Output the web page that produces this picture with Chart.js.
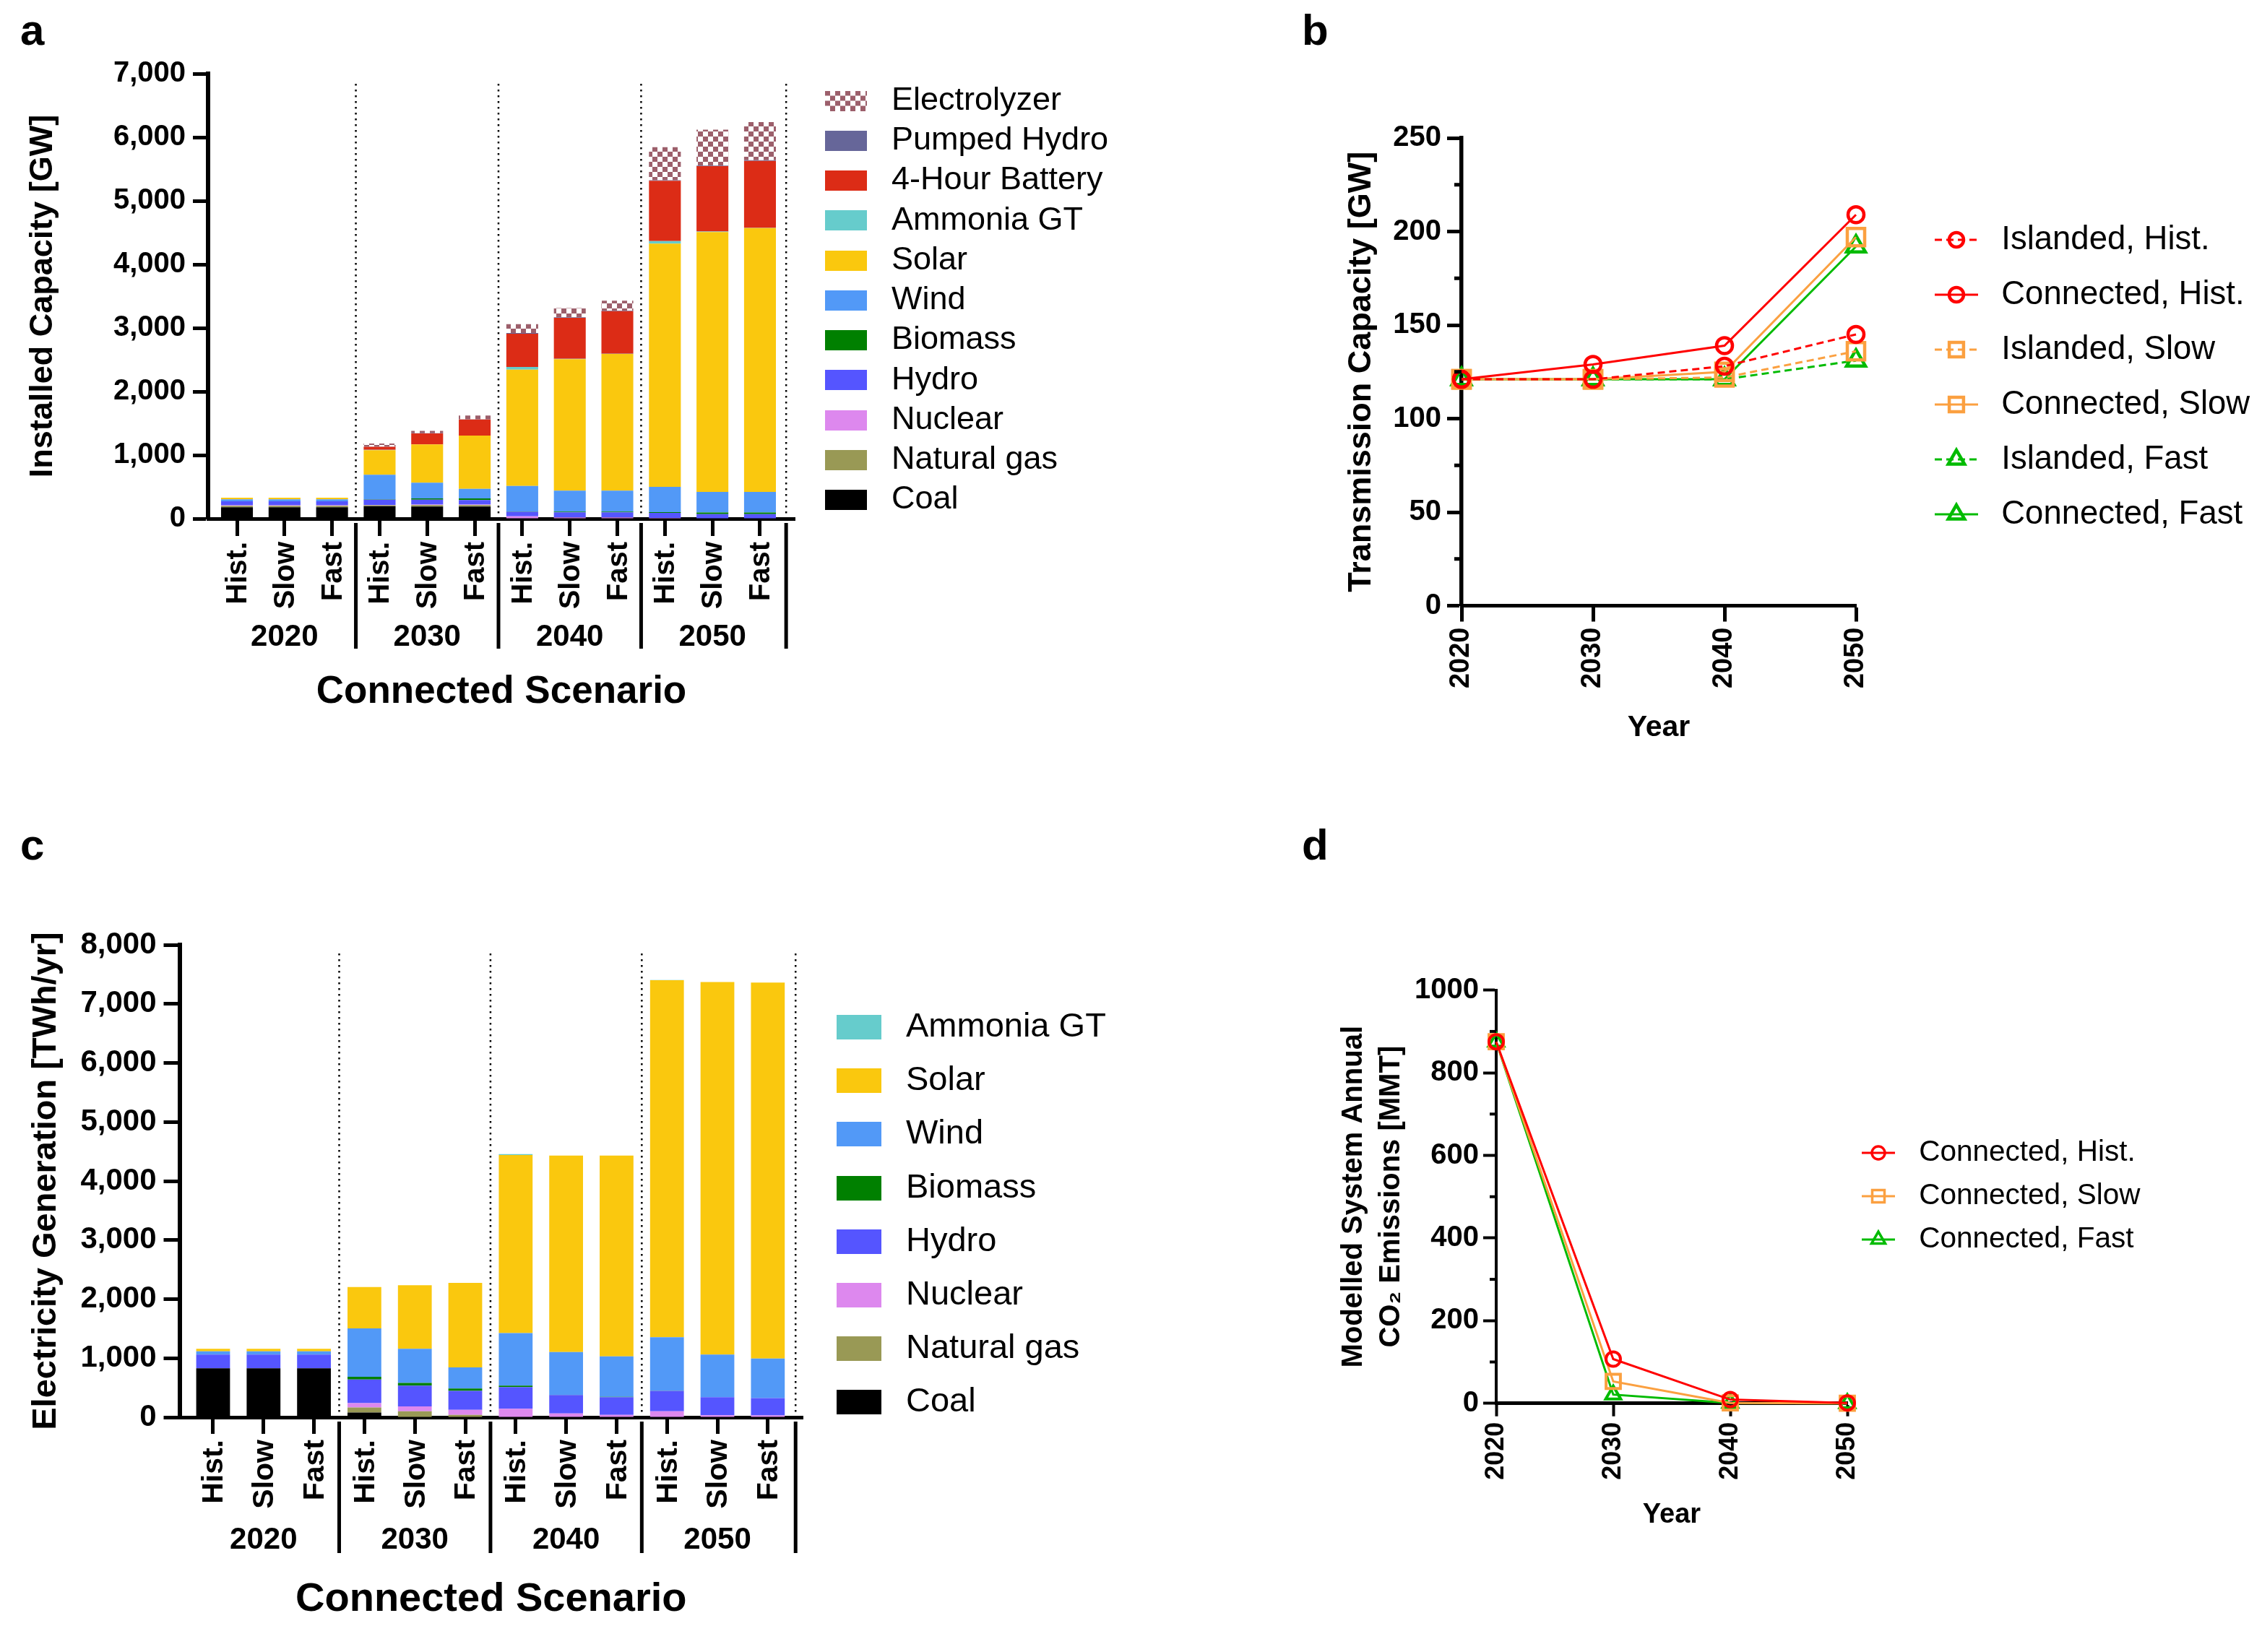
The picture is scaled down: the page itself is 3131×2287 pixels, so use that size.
<!DOCTYPE html>
<html>
<head>
<meta charset="utf-8">
<title>Capacity, transmission, generation, emissions</title>
<script src="https://cdn.jsdelivr.net/npm/chart.js@4"></script>
<style>
  html, body { margin: 0; padding: 0; background: #fff; }
  body { position: relative; width: 3131px; height: 2287px; overflow: hidden; }
  canvas { position: absolute; }
  .letter { position: absolute; font: bold 60px "Liberation Sans", Arial, sans-serif; line-height: 60px; color: #000; }
</style>
</head>
<body>
<div class="letter" style="left:28px;top:12px">a</div>
<div class="letter" style="left:1802px;top:12px">b</div>
<div class="letter" style="left:28px;top:1140px">c</div>
<div class="letter" style="left:1802px;top:1140px">d</div>
<canvas id="panelA" width="1660" height="1100" style="left:0;top:0"></canvas>
<canvas id="panelB" width="1431" height="1100" style="left:1700px;top:0"></canvas>
<canvas id="panelC" width="1660" height="1157" style="left:0;top:1130px"></canvas>
<canvas id="panelD" width="1431" height="1157" style="left:1700px;top:1130px"></canvas>
<script>
// ---------------- datos ----------------
const scenarios = ['Hist.', 'Slow', 'Fast'];
const years = ['2020', '2030', '2040', '2050'];
const lineYears = [2020, 2030, 2040, 2050];

// panel a, installed capacity [GW], 12 bars: 3 scenarios x 4 years
const capCoal = [178, 178, 178, 197, 189, 189, 0, 0, 0, 0, 0, 0];
const capGas = [25, 25, 25, 12, 24, 24, 0, 0, 0, 0, 0, 0];
const capNuclear = [7, 7, 7, 7, 10, 10, 38, 20, 20, 10, 5, 5];
const capHydro = [63, 63, 63, 83, 76, 69, 71, 80, 80, 82, 67, 67];
const capBiomass = [0, 0, 0, 5, 19, 26, 5, 10, 10, 10, 26, 26];
const capWind = [30, 30, 30, 385, 246, 152, 401, 329, 329, 398, 322, 322];
const capSolar = [27, 27, 27, 387, 604, 836, 1828, 2069, 2151, 3827, 4089, 4150];
const capAmmonia = [0, 0, 0, 5, 0, 0, 44, 5, 5, 39, 8, 4];
const capBattery = [0, 0, 0, 50, 172, 254, 523, 646, 669, 948, 1028, 1054];
const capPumped = [0, 0, 0, 3, 3, 3, 10, 10, 10, 10, 10, 10];
const capElectrolyzer = [0, 0, 0, 47, 39, 59, 140, 144, 156, 520, 564, 602];

// panel c, electricity generation [TWh/yr]
const genCoal = [830, 830, 830, 80, 0, 0, 0, 0, 0, 0, 0, 0];
const genGas = [0, 0, 0, 85, 100, 40, 0, 0, 0, 0, 0, 0];
const genNuclear = [0, 0, 0, 75, 85, 85, 145, 65, 40, 100, 35, 30];
const genHydro = [230, 230, 230, 400, 350, 320, 365, 310, 300, 345, 305, 295];
const genBiomass = [0, 0, 0, 45, 45, 40, 25, 5, 5, 5, 0, 0];
const genWind = [55, 55, 55, 820, 580, 360, 890, 725, 685, 905, 720, 670];
const genSolar = [45, 45, 45, 700, 1075, 1430, 3015, 3325, 3400, 6045, 6310, 6365];
const genAmmonia = [0, 0, 0, 0, 0, 0, 15, 0, 0, 5, 0, 0];

// panel b, transmission capacity [GW]
const transIslandedHist = [121, 121, 128, 145];
const transConnectedHist = [121, 129, 139, 209];
const transIslandedSlow = [121, 121, 122, 136];
const transConnectedSlow = [121, 121, 125, 197];
const transIslandedFast = [121, 121, 121, 131];
const transConnectedFast = [121, 121, 121, 192];

// panel d, CO2 emissions [MMT]
const co2Hist = [875, 107, 9, 1];
const co2Slow = [875, 53, 1, 0];
const co2Fast = [875, 21, 1, 0];

const capTicks = [0, 1000, 2000, 3000, 4000, 5000, 6000, 7000];
const genTicks = [0, 1000, 2000, 3000, 4000, 5000, 6000, 7000, 8000];
const transTicks = [0, 50, 100, 150, 200, 250];
const transMinor = [25, 75, 125, 175, 225];
const co2Ticks = [0, 200, 400, 600, 800, 1000];
const co2Minor = [100, 300, 500, 700, 900];

const categories = years.flatMap(() => scenarios);
const barPositions = categories.map((c, i) => i);
const groupCentres = [1, 4, 7, 10];
const groupEdges = [2.5, 5.5, 8.5, 11.55];

// ---------------- colores ----------------
const RED = '#ff0000', ORANGE = '#fba040', GREEN = '#00bb00';
const C_COAL = '#000000', C_GAS = '#999955', C_NUCLEAR = '#dd88ee', C_HYDRO = '#5555ff',
  C_BIOMASS = '#008000', C_WIND = '#5299f7', C_SOLAR = '#fac80e', C_AMMONIA = '#66cccc',
  C_BATTERY = '#dc2c16', C_PUMPED = '#666699';

const FONT = '"Liberation Sans", Arial, sans-serif';
Chart.defaults.font.family = FONT;
Chart.defaults.color = '#000';

function checker() {
  const size = 7;
  const tile = document.createElement('canvas');
  tile.width = size * 2;
  tile.height = size * 2;
  const c = tile.getContext('2d');
  c.fillStyle = '#fff';
  c.fillRect(0, 0, size * 2, size * 2);
  c.fillStyle = '#9c5f6b';
  c.fillRect(0, 0, size, size);
  c.fillRect(size, size, size, size);
  return c.createPattern(tile, 'repeat');
}
const C_ELECTROLYZER = checker();

function swatch(fill, w, h) {
  const s = document.createElement('canvas');
  s.width = w;
  s.height = h;
  const c = s.getContext('2d');
  c.fillStyle = fill;
  c.fillRect(0, 0, w, h);
  return s;
}

// small canvas with line + hollow marker for the legend of the line panels
function lineSwatch(color, dash, shape, w, r, lw) {
  const s = document.createElement('canvas');
  s.width = w;
  s.height = 40;
  const c = s.getContext('2d');
  c.strokeStyle = color;
  c.fillStyle = 'rgba(0,0,0,0)';
  c.lineWidth = 3;
  c.setLineDash(dash);
  c.beginPath();
  c.moveTo(0, 20);
  c.lineTo(w, 20);
  c.stroke();
  c.setLineDash([]);
  c.lineWidth = lw;
  Chart.helpers.drawPoint(c, { pointStyle: shape, radius: r, rotation: 0, borderWidth: lw }, w / 2, 20);
  return s;
}

// ---------------- plugins ----------------
// puts the legend where it goes, outside the plot
function legendAt(left, top) {
  return {
    id: 'legendAt',
    afterLayout(chart) {
      const l = chart.legend;
      l.left = left;
      l.top = top;
      l.right = left + 600;
      l.bottom = top + 1000;
    }
  };
}

// year labels, group dividers and dotted separators below/above the bars
function yearGroups(o) {
  return {
    id: 'yearGroups',
    afterDraw(chart) {
      const ctx = chart.ctx, x = chart.scales.x, y = chart.scales.y;
      ctx.save();
      ctx.strokeStyle = '#000';
      groupEdges.forEach(edge => {
        const px = x.getPixelForValue(edge);
        ctx.lineWidth = 2.5;
        ctx.setLineDash([2.5, 5.5]);
        ctx.beginPath();
        ctx.moveTo(px, o.dotTop);
        ctx.lineTo(px, y.bottom);
        ctx.stroke();
        ctx.lineWidth = 5;
        ctx.setLineDash([]);
        ctx.beginPath();
        ctx.moveTo(px, y.bottom + 6);
        ctx.lineTo(px, o.divBottom);
        ctx.stroke();
      });
      ctx.fillStyle = '#000';
      ctx.font = 'bold ' + o.yearSize + 'px ' + FONT;
      ctx.textAlign = 'center';
      ctx.textBaseline = 'middle';
      years.forEach((label, i) => ctx.fillText(label, x.getPixelForValue(groupCentres[i]), o.yearY));
      ctx.restore();
    }
  };
}

function minorTicks(values, len, width) {
  return {
    id: 'minorTicks',
    afterDraw(chart) {
      const ctx = chart.ctx, y = chart.scales.y;
      ctx.save();
      ctx.strokeStyle = '#000';
      ctx.lineWidth = width;
      values.forEach(v => {
        const py = y.getPixelForValue(v);
        ctx.beginPath();
        ctx.moveTo(y.right, py);
        ctx.lineTo(y.right - len, py);
        ctx.stroke();
      });
      ctx.restore();
    }
  };
}

// ---------------- ejes ----------------
function yAxis(o) {
  return {
    type: 'linear',
    position: 'left',
    stacked: o.stacked,
    min: o.ticks[0],
    max: o.ticks[o.ticks.length - 1],
    afterFit(s) { s.width = o.width; },
    afterBuildTicks(s) { s.ticks = o.ticks.map(v => ({ value: v })); },
    border: { color: '#000', width: o.line },
    grid: { drawOnChartArea: false, tickLength: o.tick, tickWidth: o.tickWidth, tickColor: '#000' },
    ticks: {
      padding: o.pad,
      autoSkip: false,
      font: { size: o.size, weight: 'bold' },
      callback: o.plain ? v => String(v) : v => v.toLocaleString('en-US')
    },
    title: {
      display: true,
      text: o.title,
      padding: 0,
      font: { size: o.titleSize, weight: 'bold', lineHeight: o.titleLine || 1.2 }
    }
  };
}

function barX(o) {
  return {
    type: 'linear',
    position: 'bottom',
    stacked: true,
    offset: false,
    min: o.min,
    max: o.max,
    afterFit(s) { s.height = o.height; },
    afterBuildTicks(s) { s.ticks = barPositions.map(v => ({ value: v })); },
    border: { color: '#000', width: 5 },
    grid: { offset: false, drawOnChartArea: false, tickLength: o.tick, tickWidth: 5, tickColor: '#000' },
    ticks: {
      minRotation: 90,
      maxRotation: 90,
      autoSkip: false,
      padding: o.pad,
      labelOffset: 2,
      font: { size: o.size, weight: 'bold' },
      callback: v => categories[v]
    },
    title: {
      display: true,
      text: 'Connected Scenario',
      padding: 0,
      font: { size: o.titleSize, weight: 'bold' }
    }
  };
}

function lineX(o) {
  return {
    type: 'linear',
    position: 'bottom',
    min: 2020,
    max: 2050,
    afterFit(s) { s.height = o.height; },
    afterBuildTicks(s) { s.ticks = lineYears.map(v => ({ value: v })); },
    border: { color: '#000', width: o.line },
    grid: { drawOnChartArea: false, tickLength: o.tick, tickWidth: o.tickWidth, tickColor: '#000' },
    ticks: {
      minRotation: 90,
      maxRotation: 90,
      autoSkip: false,
      padding: o.pad,
      font: { size: o.size, weight: 'bold' },
      callback: v => String(v)
    },
    title: {
      display: true,
      text: 'Year',
      padding: 0,
      font: { size: o.titleSize, weight: 'bold' }
    }
  };
}

function baseOptions(o) {
  return {
    responsive: false,
    animation: false,
    devicePixelRatio: 1,
    events: [],
    layout: { padding: o.padding },
    scales: { x: o.x, y: o.y },
    plugins: {
      tooltip: { enabled: false },
      legend: {
        position: 'chartArea',
        align: 'start',
        labels: {
          usePointStyle: true,
          pointStyleWidth: o.keyBox,
          padding: o.rowGap,
          font: { size: o.keySize, lineHeight: 1 },
          generateLabels: chart => {
            const items = chart.data.datasets.map(d => ({
              text: d.label,
              pointStyle: d.key,
              fillStyle: '#000',
              strokeStyle: '#000',
              lineWidth: 0,
              hidden: false
            }));
            return o.reverseKeys ? items.reverse() : items;
          }
        }
      }
    }
  };
}

function barSet(label, values, color, keyW, keyH) {
  return {
    label: label,
    data: values.map((v, i) => ({ x: barPositions[i], y: v })),
    backgroundColor: color,
    borderWidth: 0,
    barPercentage: 0.67,
    categoryPercentage: 1,
    key: swatch(color, keyW, keyH)
  };
}

function lineSet(label, values, color, dash, shape, s) {
  return {
    label: label,
    data: values.map((v, i) => ({ x: lineYears[i], y: v })),
    borderColor: color,
    borderWidth: 3,
    borderDash: dash,
    tension: 0,
    fill: false,
    clip: false,
    pointStyle: shape,
    pointRadius: s.r[shape],
    pointBorderWidth: s.lw,
    pointBorderColor: color,
    pointBackgroundColor: 'rgba(0,0,0,0)',
    key: lineSwatch(color, dash, shape, s.w, s.keyR[shape], s.keyLw)
  };
}

// ---------------- panel a ----------------
new Chart(document.getElementById('panelA'), {
  type: 'bar',
  data: {
    datasets: [
      barSet('Coal', capCoal, C_COAL, 58, 28),
      barSet('Natural gas', capGas, C_GAS, 58, 28),
      barSet('Nuclear', capNuclear, C_NUCLEAR, 58, 28),
      barSet('Hydro', capHydro, C_HYDRO, 58, 28),
      barSet('Biomass', capBiomass, C_BIOMASS, 58, 28),
      barSet('Wind', capWind, C_WIND, 58, 28),
      barSet('Solar', capSolar, C_SOLAR, 58, 28),
      barSet('Ammonia GT', capAmmonia, C_AMMONIA, 58, 28),
      barSet('4-Hour Battery', capBattery, C_BATTERY, 58, 28),
      barSet('Pumped Hydro', capPumped, C_PUMPED, 58, 28),
      barSet('Electrolyzer', capElectrolyzer, C_ELECTROLYZER, 58, 28)
    ]
  },
  options: baseOptions({
    padding: { left: 33, top: 102, right: 1660 - 1100, bottom: 110 },
    keyBox: 81, keySize: 45, rowGap: 10.25, reverseKeys: true,
    y: yAxis({ ticks: capTicks, stacked: true, width: 255, line: 6, tick: 21, tickWidth: 5, pad: 10, size: 40, title: 'Installed Capacity [GW]', titleSize: 45 }),
    x: barX({ min: -0.608, max: 11.73, height: 272, tick: 24, pad: 8, size: 40, titleSize: 53 })
  }),
  plugins: [legendAt(1130.5 - 10.25, 139.5 - 22.5 - 10.25), yearGroups({ dotTop: 116, divBottom: 898, yearY: 882, yearSize: 42 })]
});

// ---------------- panel c ----------------
new Chart(document.getElementById('panelC'), {
  type: 'bar',
  data: {
    datasets: [
      barSet('Coal', genCoal, C_COAL, 62, 34),
      barSet('Natural gas', genGas, C_GAS, 62, 34),
      barSet('Nuclear', genNuclear, C_NUCLEAR, 62, 34),
      barSet('Hydro', genHydro, C_HYDRO, 62, 34),
      barSet('Biomass', genBiomass, C_BIOMASS, 62, 34),
      barSet('Wind', genWind, C_WIND, 62, 34),
      barSet('Solar', genSolar, C_SOLAR, 62, 34),
      barSet('Ammonia GT', genAmmonia, C_AMMONIA, 62, 34)
    ]
  },
  options: baseOptions({
    padding: { left: 36, top: 178, right: 1660 - 1111, bottom: 39 },
    keyBox: 83, keySize: 47, rowGap: 27.2, reverseKeys: true,
    y: yAxis({ ticks: genTicks, stacked: true, width: 212.5, line: 6, tick: 22, tickWidth: 5, pad: 10, size: 42, title: 'Electricity Generation [TWh/yr]', titleSize: 47 }),
    x: barX({ min: -0.666, max: 11.69, height: 286, tick: 23, pad: 8, size: 41, titleSize: 56 })
  }),
  plugins: [legendAt(1147.5 - 27.2, 1422 - 1130 - 23.5 - 27.2), yearGroups({ dotTop: 190, divBottom: 1020, yearY: 1002, yearSize: 42 })]
});

// ---------------- panel b ----------------
const bMarks = { w: 60, lw: 4.5, keyLw: 4.5, r: { circle: 11, rect: 17, triangle: 15 }, keyR: { circle: 10, rect: 14, triangle: 13 } };
new Chart(document.getElementById('panelB'), {
  type: 'line',
  data: {
    datasets: [
      lineSet('Islanded, Hist.', transIslandedHist, RED, [10, 6], 'circle', bMarks),
      lineSet('Connected, Hist.', transConnectedHist, RED, [], 'circle', bMarks),
      lineSet('Islanded, Slow', transIslandedSlow, ORANGE, [10, 6], 'rect', bMarks),
      lineSet('Connected, Slow', transConnectedSlow, ORANGE, [], 'rect', bMarks),
      lineSet('Islanded, Fast', transIslandedFast, GREEN, [10, 6], 'triangle', bMarks),
      lineSet('Connected, Fast', transConnectedFast, GREEN, [], 'triangle', bMarks)
    ]
  },
  options: baseOptions({
    padding: { left: 1858 - 1700, top: 191, right: 1431 - (2569 - 1700), bottom: 1100 - 1032 },
    keyBox: 79, keySize: 45.5, rowGap: 30.5, reverseKeys: false,
    y: yAxis({ ticks: transTicks, stacked: false, width: 2023 - 1858, line: 5.5, tick: 20, tickWidth: 5, pad: 8, size: 40, title: 'Transmission Capacity [GW]', titleSize: 45 }),
    x: lineX({ height: 1032 - 838.5, line: 5, tick: 22, tickWidth: 5, pad: 8, size: 38, titleSize: 41 })
  }),
  plugins: [legendAt(2668.5 - 1700 - 30.5, 332 - 22.75 - 30.5), minorTicks(transMinor, 10, 5)]
});

// ---------------- panel d ----------------
const dMarks = { w: 46, lw: 4, keyLw: 3.5, r: { circle: 10, rect: 14, triangle: 12 }, keyR: { circle: 9, rect: 12, triangle: 11 } };
new Chart(document.getElementById('panelD'), {
  type: 'line',
  data: {
    datasets: [
      lineSet('Connected, Hist.', co2Hist, RED, [], 'circle', dMarks),
      lineSet('Connected, Slow', co2Slow, ORANGE, [], 'rect', dMarks),
      lineSet('Connected, Fast', co2Fast, GREEN, [], 'triangle', dMarks)
    ]
  },
  options: baseOptions({
    padding: { left: 1848 - 1700, top: 1370.7 - 1130, right: 1431 - (2557 - 1700), bottom: 1157 - (2120 - 1130) },
    keyBox: 72, keySize: 40.5, rowGap: 19.5, reverseKeys: false,
    y: yAxis({ ticks: co2Ticks, plain: true, stacked: false, width: 2071 - 1848, line: 4, tick: 18, tickWidth: 4, pad: 6, size: 40, title: ['Modelled System Annual', 'CO\u2082 Emissions [MMT]'], titleSize: 40, titleLine: 1.3 }),
    x: lineX({ height: 2120 - 1942.7, line: 5, tick: 18, tickWidth: 4, pad: 8, size: 36, titleSize: 38 })
  }),
  plugins: [legendAt(2564 - 1700 - 19.5, 1596 - 1130 - 20.25 - 19.5), minorTicks(co2Minor, 9, 4)]
});
</script>
</body>
</html>
